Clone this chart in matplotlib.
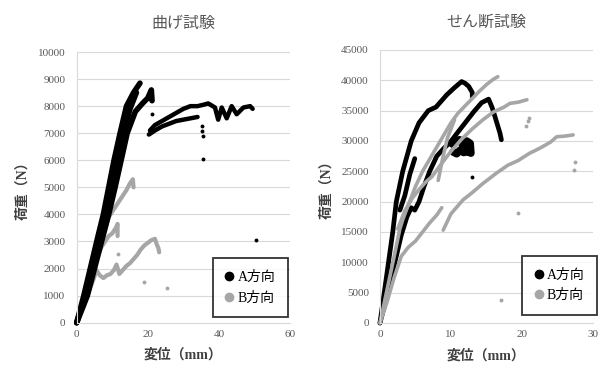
import matplotlib
matplotlib.use('Agg')
import matplotlib.pyplot as plt
from matplotlib.lines import Line2D

plt.rcParams['font.family'] = ['Liberation Serif', 'Noto Sans CJK JP']

BLACK = '#000000'
GRAY = '#A6A6A6'
TEXT = '#595959'
GRID = '#D9D9D9'

# ---- 曲げ試験 (bending) : displacement mm / load N ----
bend_a1_x = [0, 2, 4, 6, 7.5, 9, 10.5, 12.2, 14, 16, 17.8]
bend_a1_y = [0, 1000, 2100, 3200, 4000, 5000, 6000, 7000, 8000, 8500, 8850]
bend_am_x = [0, 2.5, 4.5, 6.5, 8.3, 9.9, 11.5, 13.2, 15, 16.8]
bend_am_y = [0, 1000, 2000, 3100, 4000, 5000, 6000, 7000, 7900, 8500]
bend_a2_x = [0, 3, 5, 7, 9, 10.8, 12.5, 14.2, 16.5, 18.5, 20, 21, 21.2]
bend_a2_y = [0, 1000, 2000, 3000, 4000, 5000, 6000, 7000, 7800, 8100, 8300, 8600, 8200]
bend_a3_x = [20.6, 22, 24, 26, 28, 30, 32, 34, 35.6, 37, 38.9, 39.8, 40.8, 42.2,
             43.6, 45, 46.9, 48.8, 49.5]
bend_a3_y = [7100, 7300, 7450, 7600, 7750, 7900, 8000, 8000, 8050, 8100, 7950, 7500,
             7950, 7550, 8000, 7700, 7950, 8000, 7900]
bend_a4_x = [20.3, 22, 24, 26, 28, 30, 32, 34]
bend_a4_y = [6950, 7100, 7250, 7350, 7450, 7500, 7550, 7600]
bend_a_pts_x = [21.3, 35.2, 35.3, 35.4, 35.6, 50.5]
bend_a_pts_y = [7700, 7250, 7100, 6900, 6050, 3050]

bend_b1_x = [0, 1, 2, 3, 4, 5, 5.5, 6.5, 7.5, 8.5, 9.5, 10.5, 11.2, 12, 13, 14, 15,
             16, 17, 18, 19, 20, 21, 22, 22.5, 23, 23.2]
bend_b1_y = [0, 300, 600, 1000, 1350, 1700, 1950, 1750, 1650, 1750, 1800, 1950, 2150,
             1800, 1950, 2100, 2200, 2350, 2500, 2700, 2850, 2950, 3050, 3100, 2900,
             2750, 2600]
bend_b2_x = [0, 1, 2, 3, 4, 5, 6, 7, 8, 9, 10, 11, 12, 13, 14, 15, 15.8, 16]
bend_b2_y = [0, 350, 800, 1300, 1900, 2500, 2900, 3200, 3500, 3900, 4100, 4300, 4500,
             4700, 4900, 5150, 5300, 5000]
bend_b3_x = [6, 7, 8, 9, 10, 11, 11.5, 11.5]
bend_b3_y = [2500, 2800, 3000, 3200, 3300, 3500, 3650, 3200]
bend_b_pts_x = [11.5, 19, 25.5]
bend_b_pts_y = [2550, 1500, 1300]

# ---- せん断試験 (shear) ----
shear_a1_x = [0, 0.6, 1.2, 1.8, 2.3, 3.2, 4.4, 5.5, 6.8, 7.9, 9.4, 10.5, 11.5, 12,
              12.5, 13, 13]
shear_a1_y = [0, 5000, 10000, 15000, 20000, 25000, 30000, 33000, 35000, 35600, 37600,
              38800, 39800, 39500, 39000, 38000, 37300]
shear_a2_x = [0, 1, 2, 3, 3.8, 4.4, 4.9, 5.5, 6.2, 7, 8, 9, 9.9, 11, 12.2, 13.2, 14.3,
              15.3, 15.8, 16.2, 16.9, 17.1]
shear_a2_y = [0, 4500, 9500, 14500, 17500, 19000, 18600, 20000, 22500, 25000, 27500,
              28800, 29800, 31500, 33300, 34800, 36300, 36900, 35500, 34000, 31300, 30200]
shear_a3_x = [2.8, 3.5, 4.2, 4.9]
shear_a3_y = [18600, 21000, 24500, 27100]
shear_a4_x = [10.2, 10.7, 11.2, 11.7, 12.2, 12.7, 12.8, 12.3, 11.8, 11.3, 10.8, 10.3]
shear_a4_y = [29500, 30000, 30200, 29300, 30000, 29600, 28000, 28300, 28100, 28500,
              27900, 28200]
shear_a_pts_x = [12.9]
shear_a_pts_y = [24000]

shear_b1_x = [0, 1, 2, 2.8, 3.2, 4, 5, 6, 7, 8, 9, 10, 11, 12, 13, 14, 15, 16, 16.6]
shear_b1_y = [0, 5500, 11000, 15500, 17000, 19500, 22500, 25000, 27000, 29000, 31000,
              33000, 34600, 35800, 37000, 38200, 39300, 40200, 40600]
shear_b2_x = [8.2, 8.8, 9.5, 10.5]
shear_b2_y = [23500, 27000, 30500, 33500]
shear_b3_x = [2.5, 3.5, 4.5, 5.5, 6.5, 7.3, 8.5, 10, 11.5, 13, 14.5, 16, 17.5, 18.3,
              19.5, 20.7]
shear_b3_y = [15500, 18500, 20500, 22000, 23300, 24100, 26000, 28300, 30300, 32000,
              33500, 34800, 35600, 36200, 36400, 36800]
shear_b4_x = [0, 1, 2, 3, 4, 5, 6, 7, 8, 8.7]
shear_b4_y = [0, 3500, 7500, 11000, 12500, 13500, 15000, 16500, 17800, 19000]
shear_b5_x = [8.9, 10, 11.7, 13, 14.5, 16.4, 18, 19.5, 21.1, 22.5, 24, 24.9, 26, 27.2]
shear_b5_y = [15300, 18000, 20300, 21500, 23000, 24700, 26000, 26800, 28000, 28800,
              29800, 30700, 30800, 31000]
shear_b_pts_x = [20.6, 20.8, 21, 27.5, 27.3, 19.5, 17]
shear_b_pts_y = [32500, 33300, 33800, 26600, 25200, 18100, 3800]

legend_labels = ['A方向', 'B方向']


def style_axes(ax, title, xmax, xstep, ymax, ystep):
    ax.set_xlim(0, xmax)
    ax.set_ylim(0, ymax)
    ax.set_xticks(range(0, xmax + 1, xstep))
    ax.set_yticks(range(0, ymax + 1, ystep))
    ax.grid(axis='y', color=GRID, lw=0.8)
    ax.set_axisbelow(True)
    for s in ['top', 'right']:
        ax.spines[s].set_visible(False)
    for s in ['left', 'bottom']:
        ax.spines[s].set_color(GRID)
        ax.spines[s].set_linewidth(0.8)
    ax.tick_params(length=0, colors=TEXT, labelsize=8)
    ax.tick_params(axis='y', pad=8)
    ax.tick_params(axis='x', pad=5)
    ax.set_title(title, family=['Noto Sans CJK JP'], fontsize=11.5, color=TEXT, pad=17)
    ax.set_xlabel('変位（mm）', fontsize=10, fontweight='bold', color='#404040', labelpad=7)
    ax.set_ylabel('荷重（N）', fontsize=10, fontweight='bold', color='#404040', labelpad=6)


def draw_lines(ax, lines, color, lw):
    for x, y in lines:
        ax.plot(x, y, color=color, lw=lw, solid_capstyle='round',
                solid_joinstyle='round', clip_on=False)


def add_legend(ax, anchor):
    handles = [Line2D([], [], ls='none', marker='o', ms=6, color=BLACK),
               Line2D([], [], ls='none', marker='o', ms=6, color=GRAY)]
    leg = ax.legend(handles, legend_labels, loc='lower right', bbox_to_anchor=anchor,
                    fontsize=10, frameon=True, fancybox=False, handlelength=0.6,
                    handletextpad=0.3, borderpad=0.9, labelspacing=0.55,
                    borderaxespad=0)
    leg.get_frame().set_edgecolor(BLACK)
    leg.get_frame().set_linewidth(1.3)


fig = plt.figure(figsize=(6.02, 3.67), dpi=100)

ax1 = fig.add_axes([0.1274, 0.1207, 0.3543, 0.7376])
style_axes(ax1, '曲げ試験', 60, 20, 10000, 1000)
draw_lines(ax1, [(bend_b1_x, bend_b1_y), (bend_b2_x, bend_b2_y), (bend_b3_x, bend_b3_y)],
           GRAY, 3.0)
draw_lines(ax1, [(bend_a1_x, bend_a1_y), (bend_am_x, bend_am_y),
                 (bend_a2_x, bend_a2_y)], BLACK, 4.0)
draw_lines(ax1, [(bend_a3_x, bend_a3_y), (bend_a4_x, bend_a4_y)], BLACK, 3.2)
ax1.plot(bend_a_pts_x, bend_a_pts_y, 'o', color=BLACK, ms=2.8, mec='none')
ax1.plot(bend_b_pts_x, bend_b_pts_y, 'o', color=GRAY, ms=2.8, mec='none')
add_legend(ax1, (0.99, 0.02))

ax2 = fig.add_axes([0.6312, 0.1199, 0.3538, 0.7439])
style_axes(ax2, 'せん断試験', 30, 10, 45000, 5000)
draw_lines(ax2, [(shear_a1_x, shear_a1_y), (shear_a2_x, shear_a2_y),
                 (shear_a3_x, shear_a3_y)], BLACK, 3.4)
draw_lines(ax2, [(shear_a4_x, shear_a4_y)], BLACK, 5.5)
draw_lines(ax2, [(shear_b1_x, shear_b1_y), (shear_b2_x, shear_b2_y),
                 (shear_b3_x, shear_b3_y), (shear_b4_x, shear_b4_y),
                 (shear_b5_x, shear_b5_y)], GRAY, 2.6)
ax2.plot(shear_a_pts_x, shear_a_pts_y, 'o', color=BLACK, ms=2.8, mec='none')
ax2.plot(shear_b_pts_x, shear_b_pts_y, 'o', color=GRAY, ms=2.8, mec='none')
add_legend(ax2, (1.02, 0.03))

fig.savefig('out.png', dpi=100)
